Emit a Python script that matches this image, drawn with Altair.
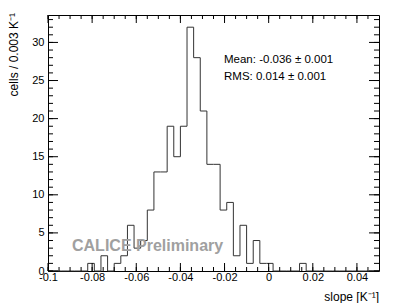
import altair as alt
import pandas as pd

# ---- data ----
bin_lo = -0.1
bin_w = 0.003
counts = [0, 0, 0, 0, 0, 0, 1, 0, 2, 0,
          1, 2, 6, 3, 4, 8, 13, 13, 19, 15,
          19, 32, 28, 21, 14, 14, 8, 9, 2, 6,
          1, 4, 1, 1, 0, 0, 0, 0, 1, 0,
          0, 0, 0, 0, 0, 0, 0, 0, 0, 0]
x_labels = [-0.1, -0.08, -0.06, -0.04, -0.02, 0, 0.02, 0.04]
x_minor = [-0.1, -0.095, -0.09, -0.085, -0.08, -0.075, -0.07, -0.065, -0.06, -0.055,
           -0.05, -0.045, -0.04, -0.035, -0.03, -0.025, -0.02, -0.015, -0.01, -0.005,
           0, 0.005, 0.01, 0.015, 0.02, 0.025, 0.03, 0.035, 0.04, 0.045]
y_labels = [0, 5, 10, 15, 20, 25, 30]
y_minor = list(range(0, 34))
stats_lines = ["Mean: -0.036 \u00b1 0.001", "RMS: 0.014 \u00b1 0.001"]
x_title = "slope [K\u207b\u00b9]"
y_title = "cells / 0.003 K\u207b\u00b9"
watermark = "CALICE Preliminary"

W, H = 331, 256
FONT = "Liberation Sans"

edges = [round(bin_lo + bin_w * i, 4) for i in range(len(counts) + 1)]
hist = pd.DataFrame({"x": edges, "y": counts + [counts[-1]]})

xs = alt.Scale(domain=[-0.1, 0.05], nice=False, zero=False)
ys = alt.Scale(domain=[0, 33.6], nice=False, zero=False)

xaxis = alt.Axis(
    values=x_labels, labelExpr="'' + round(datum.value*100)/100",
    ticks=False, domain=False, grid=False, labelFlush=False,
    labelPadding=0, labelFontSize=11, labelFont=FONT, labelColor="black",
    title=None)
yaxis = alt.Axis(
    values=y_labels, format="d", ticks=False, domain=False, grid=False,
    labelPadding=4, labelFontSize=11, labelFont=FONT, labelColor="black",
    title=None)

line = alt.Chart(hist).mark_line(
    interpolate="step-after", color="#333333", strokeWidth=1
).encode(
    x=alt.X("x:Q", scale=xs, axis=xaxis),
    y=alt.Y("y:Q", scale=ys, axis=yaxis),
)

ymaj = pd.DataFrame({"v": y_labels})
ymin = pd.DataFrame({"v": y_minor})
xmaj = pd.DataFrame({"v": x_labels})
xmin = pd.DataFrame({"v": x_minor})

def yticks(df, x0, x1):
    return alt.Chart(df).mark_rule(color="black", strokeWidth=1).encode(
        y=alt.Y("v:Q", scale=ys, axis=yaxis), x=alt.value(x0), x2=alt.value(x1))

def xticks(df, y0, y1):
    return alt.Chart(df).mark_rule(color="black", strokeWidth=1).encode(
        x=alt.X("v:Q", scale=xs, axis=xaxis), y=alt.value(y0), y2=alt.value(y1))

ticks = [
    yticks(ymaj, 0, 10), yticks(ymin, 0, 5),
    yticks(ymaj, W - 10, W), yticks(ymin, W - 5, W),
    xticks(xmaj, H, H - 8), xticks(xmin, H, H - 4),
    xticks(xmaj, 0, 8), xticks(xmin, 0, 4),
]

def text(t, x, y, **kw):
    return alt.Chart(pd.DataFrame({"t": [t]})).mark_text(font=FONT, **kw).encode(
        text="t:N", x=alt.value(x), y=alt.value(y))

texts = [
    text(stats_lines[0], 176, 45, align="left", baseline="middle", fontSize=11.5, color="black"),
    text(stats_lines[1], 176, 62, align="left", baseline="middle", fontSize=11.5, color="black"),
    text(watermark, 24, 235.7, align="left", baseline="alphabetic", fontSize=16,
         fontWeight="bold", color="#a0a0a0"),
    text(x_title, W, 282, align="right", baseline="middle", fontSize=12, color="black"),
    text(y_title, -34, -2, align="right", baseline="middle", fontSize=12, angle=270,
         color="black"),
]

chart = alt.layer(line, *ticks, *texts).properties(
    width=W, height=H,
    autosize=alt.AutoSizeParams(type="none"),
    padding={"left": 40, "top": 7, "right": 12, "bottom": 32},
).configure_view(stroke="black", strokeWidth=1)

chart.save("out.html", embed_options={"renderer": "svg", "actions": False})
